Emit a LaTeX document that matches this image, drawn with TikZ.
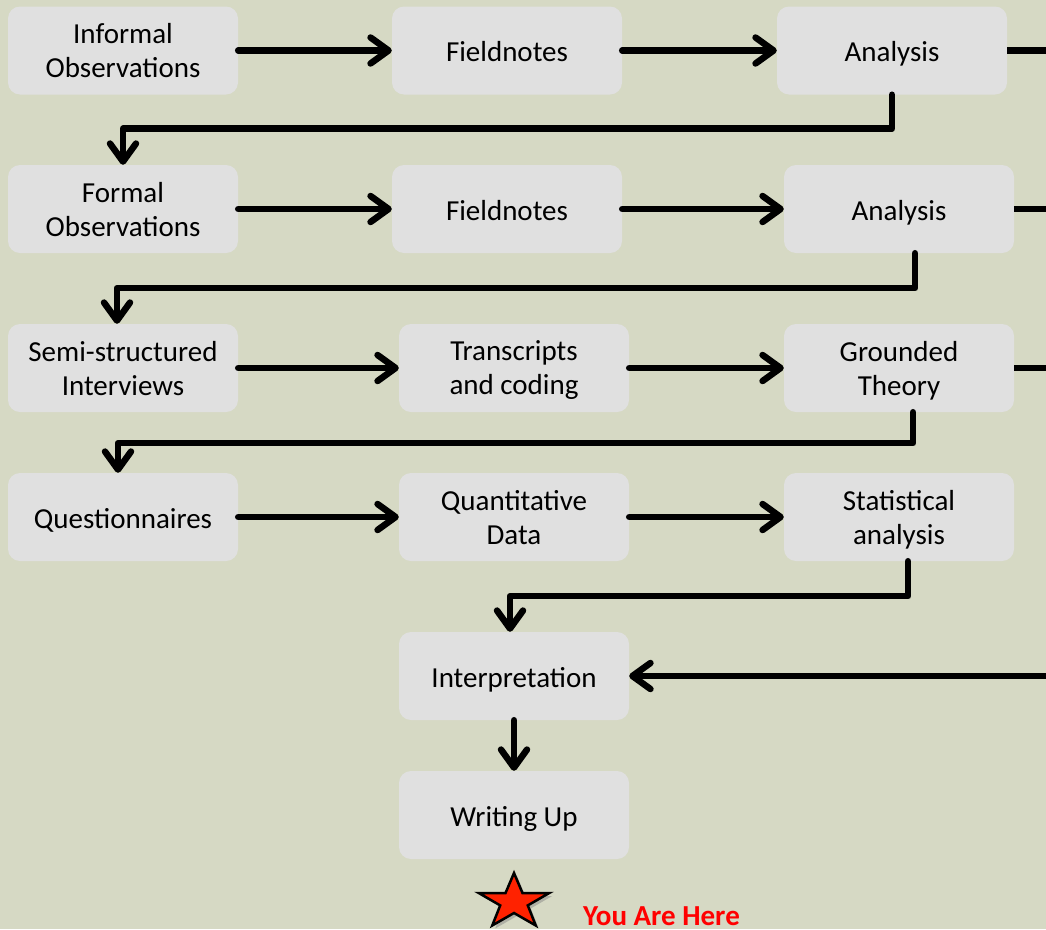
\documentclass[tikz,border=0pt]{standalone}
\usepackage{fontspec}
\setmainfont{Carlito}
\usetikzlibrary{arrows.meta,shadows}
\definecolor{sage}{RGB}{214,217,196}
\definecolor{boxgrey}{RGB}{224,224,224}
\definecolor{starred}{RGB}{255,34,0}
\definecolor{herered}{RGB}{255,0,0}

\begin{document}
\begin{tikzpicture}[x=1pt,y=1pt,
  stage/.style={fill=boxgrey,rounded corners=12,minimum width=230,minimum height=88,
    align=center,font=\fontsize{29}{34}\selectfont,inner sep=2},
  oneline/.style={stage,text height=28,text depth=6},
  twoline/.style={stage,text depth=0},
  flow/.style={line width=6.5,line cap=round,line join=round,
    -{Straight Barb[length=18,width=26,line cap=round,line join=round]}},
  plain/.style={line width=6.5,line join=round}]
%background
\clip (0,0) rectangle (1046,-929);
\fill[sage] (0,0) rectangle (1046,-929);

%row 1
\node[twoline] (inf) at (123,-50.5) {Informal\\Observations};
\node[oneline] (fn1) at (507,-50.5) {Fieldnotes};
\node[oneline] (an1) at (892,-50.5) {Analysis};

%row 2
\node[twoline] (form) at (123,-209) {Formal\\Observations};
\node[oneline] (fn2) at (507,-209) {Fieldnotes};
\node[oneline] (an2) at (899,-209) {Analysis};

%row 3
\node[twoline] (semi) at (123,-368) {Semi-structured\\Interviews};
\node[twoline] (trans) at (514,-368) {Transcripts\\and coding};
\node[twoline] (gt) at (899,-368) {Grounded\\Theory};

%row 4
\node[oneline] (quest) at (123,-517) {Questionnaires};
\node[twoline] (quant) at (514,-517) {Quantitative\\Data};
\node[twoline] (stat) at (899,-517) {Statistical\\analysis};

%last steps
\node[oneline] (interp) at (514,-676) {Interpretation};
\node[oneline] (write) at (514,-815) {Writing Up};

%rail on the right
\coordinate (railtop) at (1080,-50.5);
\coordinate (railbot) at (1080,-676);

%arrows along the rows
\draw[flow] (inf) -- (fn1);
\draw[flow] (fn1) -- (an1);
\draw[flow] (form) -- (fn2);
\draw[flow] (fn2) -- (an2);
\draw[flow] (semi) -- (trans);
\draw[flow] (trans) -- (gt);
\draw[flow] (quest) -- (quant);
\draw[flow] (quant) -- (stat);

%arrows between rows
\draw[flow] (an1.south) -- ++(0,-34) -| (form.north);
\draw[flow] ([xshift=16]an2.south) -- ++(0,-35) -| ([xshift=-6]semi.north);
\draw[flow] ([xshift=14]gt.south) -- ++(0,-31) -| ([xshift=-5]quest.north);
\draw[flow] ([xshift=9]stat.south) -- ++(0,-35) -| ([xshift=-4]interp.north);
\draw[flow] (interp) -- (write);

%analysis to interpretation
\draw[plain] (an1.east) -- (railtop);
\draw[plain] (an2.east) -- (an2.east -| railtop);
\draw[plain] (gt.east) -- (gt.east -| railtop);
\draw[flow] (railtop) -- (railbot) -- (interp.east);

%you are here
\filldraw[fill=starred,draw=black,line width=2.5,line join=miter,
  drop shadow={shadow xshift=3,shadow yshift=-3,opacity=.45}]
  (514,-902) +(90:37 and 29) -- +(126:14.5 and 11) -- +(162:37 and 29)
  -- +(198:14.5 and 11) -- +(234:37 and 29) -- +(270:14.5 and 11)
  -- +(306:37 and 29) -- +(342:14.5 and 11) -- +(18:37 and 29)
  -- +(54:14.5 and 11) -- cycle;
\node[anchor=base west,text=herered,inner sep=0,
  font=\fontsize{29}{32}\selectfont\bfseries] (here) at (583,-925) {You Are Here};
\end{tikzpicture}
\end{document}
